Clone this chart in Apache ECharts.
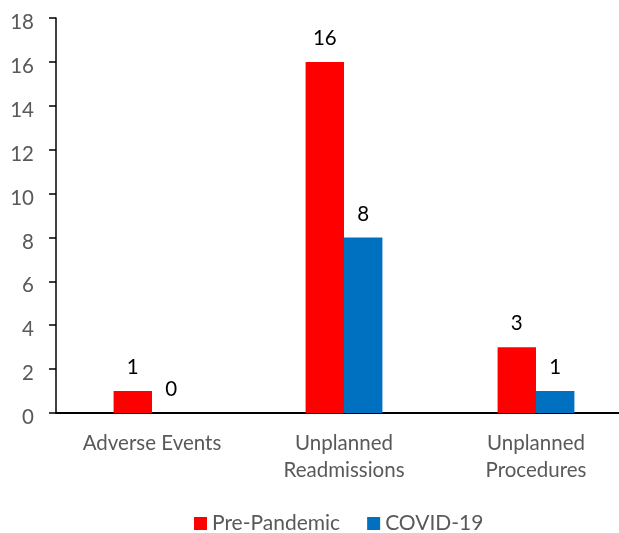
<!DOCTYPE html>
<html>
<head>
<meta charset="utf-8">
<script src="https://cdn.jsdelivr.net/npm/echarts@6/dist/echarts.min.js"></script>
<style>html,body{margin:0;padding:0;background:#fff;}#c{width:619px;height:533px;}</style>
</head>
<body>
<div id="c"></div>
<script>
var categories = ['Adverse Events', 'Unplanned\nReadmissions', 'Unplanned\nProcedures'];
var prePandemic = [1, 16, 3];
var covid19 = [0, 8, 1];
var seriesNames = ['Pre-Pandemic', 'COVID-19'];
var yTicks = {min: 0, max: 18, interval: 2};

var FONT = 'Lato';
var chart = echarts.init(document.getElementById('c'));
var labelStyle = {show: true, position: 'top', distance: 13, color: '#000', fontSize: 20.5, fontFamily: FONT};
chart.setOption({
  animation: false,
  grid: {left: 56, right: -13, top: 18, bottom: 120, containLabel: false, outerBoundsMode: 'none'},
  legend: {
    bottom: -6, left: 189, itemWidth: 13, itemHeight: 13, itemGap: 27,
    icon: 'rect',
    textStyle: {color: '#595959', fontSize: 21, fontFamily: FONT},
    data: seriesNames
  },
  xAxis: {
    type: 'category', data: categories,
    axisLine: {lineStyle: {color: '#000', width: 2}},
    axisTick: {show: false},
    axisLabel: {color: '#595959', fontSize: 20.5, fontFamily: FONT, lineHeight: 27, margin: 17, interval: 0}
  },
  yAxis: {
    type: 'value', min: yTicks.min, max: yTicks.max, interval: yTicks.interval,
    axisLine: {show: true, lineStyle: {color: '#000', width: 1.5}},
    axisTick: {show: true, length: 7, lineStyle: {color: '#000', width: 1.5}},
    splitLine: {show: false},
    axisLabel: {
      margin: 22,
      formatter: function (v) { return '{t|' + v + '}'; },
      rich: {t: {color: '#595959', fontSize: 20.5, fontFamily: FONT, padding: [9, 0, 0, 0]}}
    }
  },
  series: [
    {name: seriesNames[0], type: 'bar', data: prePandemic, barWidth: '20%', barGap: '0%', itemStyle: {color: '#FF0000'}, label: labelStyle},
    {name: seriesNames[1], type: 'bar', data: covid19, barWidth: '20%', barGap: '0%', itemStyle: {color: '#0070C0'}, label: labelStyle}
  ]
});
</script>
</body>
</html>
